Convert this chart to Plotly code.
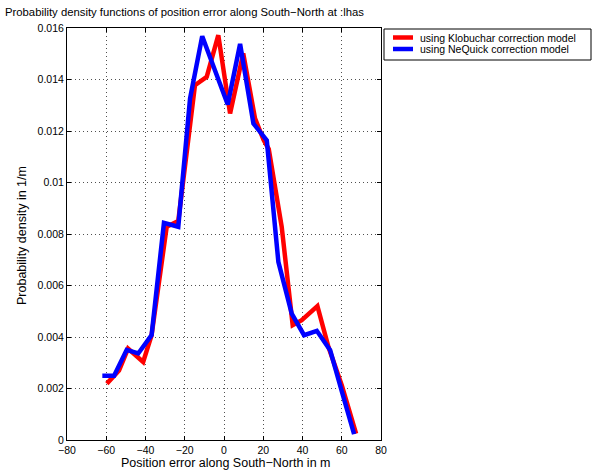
import plotly.graph_objects as go

# Klobuchar-corrected solution: position error (m) and density (1/m)
klob_x = [-59.7, -53.5, -48.9, -41.2, -36.9, -29.2, -23.3, -14.8, -8.8, -2.9,
          3.1, 9.8, 15.8, 20.2, 22.8, 29.4, 35.0, 39.6, 47.6, 53.2, 60.0, 67.3]
klob_y = [0.00219, 0.0027, 0.00355, 0.00303, 0.00407, 0.00828, 0.0085, 0.01378,
          0.0141, 0.01572, 0.01268, 0.01501, 0.01249, 0.01165, 0.0113, 0.00828,
          0.00446, 0.00465, 0.0052, 0.00362, 0.00213, 0.00025]

# NeQuick-corrected solution
neq_x = [-62.0, -56.0, -49.6, -43.7, -36.9, -30.6, -23.3, -17.3, -11.1, -4.5,
         1.9, 8.2, 15.0, 21.8, 27.7, 34.5, 40.8, 47.3, 54.1, 60.0, 66.3]
neq_y = [0.0025, 0.0025, 0.0035, 0.00336, 0.00407, 0.00843, 0.00828, 0.01326,
         0.01568, 0.01432, 0.01303, 0.01538, 0.01229, 0.01164, 0.00692, 0.00491,
         0.00407, 0.00424, 0.00349, 0.0019, 0.00023]

series_names = ["using Klobuchar correction model", "using NeQuick correction model"]
series_colors = ["#ff0000", "#0000ff"]

x_ticks = [-80, -60, -40, -20, 0, 20, 40, 60, 80]
y_ticks = [0, 0.002, 0.004, 0.006, 0.008, 0.01, 0.012, 0.014, 0.016]
y_tick_text = ["0", "0.002", "0.004", "0.006", "0.008", "0.01", "0.012", "0.014", "0.016"]

TITLE = "Probability density functions of position error along South\u2212North at :lhas"
X_LABEL = "Position error along South\u2212North in m"
Y_LABEL = "Probability density in 1/m"

FONT = "Liberation Sans, Arial, Helvetica, sans-serif"
W, H = 592, 475
ML, MR, MT, MB = 67, 211, 28, 35
PW, PH = W - ML - MR, H - MT - MB


def px_x(X):
    """Pixel column -> paper x."""
    return (X - ML) / PW


def px_y(Y):
    """Pixel row -> paper y."""
    return (H - MB - Y) / PH


fig = go.Figure()
for xs, ys, name, color in zip([klob_x, neq_x], [klob_y, neq_y], series_names, series_colors):
    fig.add_trace(go.Scatter(x=xs, y=ys, mode="lines", name=name,
                             line=dict(color=color, width=4.5), showlegend=False))

axis_common = dict(
    showline=True, linecolor="black", linewidth=1, mirror="ticks",
    ticks="inside", ticklen=4, tickcolor="black",
    showgrid=True, gridcolor="#505050", griddash="1px,3px", gridwidth=1,
    zeroline=False, tickfont=dict(size=10.5, color="black", family=FONT),
    automargin=False,
)

fig.update_xaxes(range=[-80, 80], tickvals=x_ticks, **axis_common)
fig.update_yaxes(range=[0, 0.016], tickvals=y_ticks, ticktext=y_tick_text, **axis_common)

label_font = dict(size=12.5, color="black", family=FONT)
annotations = [
    dict(text=X_LABEL, xref="paper", yref="paper", x=px_x(226), y=px_y(463),
         xanchor="center", yanchor="middle", showarrow=False, font=label_font),
    dict(text=Y_LABEL, xref="paper", yref="paper", x=px_x(22), y=px_y(236),
         xanchor="center", yanchor="middle", textangle=-90, showarrow=False,
         font=label_font),
]

# Legend box drawn beside the axes
shapes = [dict(type="rect", xref="paper", yref="paper",
               x0=px_x(384), x1=px_x(591), y0=px_y(60), y1=px_y(29),
               line=dict(color="black", width=1), fillcolor="white", layer="below")]
for i, (name, color) in enumerate(zip(series_names, series_colors)):
    yc = 37.5 + 11.5 * i
    shapes.append(dict(type="line", xref="paper", yref="paper",
                       x0=px_x(393), x1=px_x(413), y0=px_y(yc), y1=px_y(yc),
                       line=dict(color=color, width=4.5)))
    annotations.append(dict(text=name, xref="paper", yref="paper",
                            x=px_x(418), y=px_y(yc), xanchor="left", yanchor="middle",
                            showarrow=False,
                            font=dict(size=10.5, color="black", family=FONT)))

fig.update_layout(
    width=W, height=H,
    margin=dict(l=ML, r=MR, t=MT, b=MB),
    paper_bgcolor="white", plot_bgcolor="white",
    font=dict(family=FONT, color="black"),
    title=dict(text=TITLE, x=5 / W, xref="container", xanchor="left",
               y=1 - 12 / H, yref="container", yanchor="middle",
               font=dict(size=11.3, color="black", family=FONT)),
    shapes=shapes,
    annotations=annotations,
    showlegend=False,
)

fig.write_html("out.html")
